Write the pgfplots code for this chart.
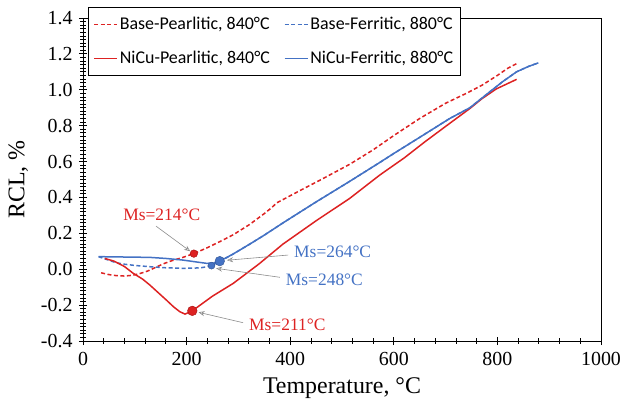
\documentclass[border=0pt]{standalone}
\usepackage{fontspec}
\setmainfont{Liberation Serif}
\newfontfamily\calibri{Carlito}
\usepackage{pgfplots}
\pgfplotsset{compat=1.18}
\usetikzlibrary{arrows.meta}
\definecolor{xred}{HTML}{DD2222}
\definecolor{xredd}{HTML}{A01010}
\definecolor{xblue}{HTML}{4472C4}
\definecolor{xblued}{HTML}{2F528F}
\definecolor{arrgray}{HTML}{8C8C8C}

\begin{document}
\begin{tikzpicture}
\useasboundingbox (0bp,0bp) rectangle (623bp,408bp);
\begin{axis}[at={(83bp,67bp)},anchor=south west,scale only axis,width=518bp,height=323bp,
  xmin=0,xmax=1000,ymin=-0.4,ymax=1.4,
  xtick={0,200,400,600,800,1000},
  xticklabels={0,200,400,600,800,1000},
  ytick={-0.4,-0.2,0,0.2,0.4,0.6,0.8,1.0,1.2,1.4},
  yticklabels={-0.4,-0.2,0.0,0.2,0.4,0.6,0.8,1.0,1.2,1.4},
  minor x tick num=4,minor y tick num=9,
  xtick pos=bottom,ytick pos=left,
  tick align=center,
  major tick length=8bp,minor tick length=5bp,
  tick style={black,line width=0.8bp},
  axis line style={black,line width=0.9bp},
  tick label style={font=\fontsize{20}{23}\selectfont},
  x tick label style={yshift=-4bp},
  y tick label style={xshift=-3bp},
  xlabel={Temperature, °C},ylabel={RCL, \%},
  label style={font=\fontsize{24}{28}\selectfont},
  xlabel style={yshift=-5bp},
  ylabel style={yshift=6bp},
  legend columns=2,legend cell align=left,
  legend image post style={xscale=1.35},
  legend style={at={(0.0097,1.034)},anchor=north west,draw=black,line width=0.8bp,fill=white,
    font=\fontsize{18}{21}\selectfont,inner xsep=5bp,inner ysep=8bp,row sep=16bp,
    /tikz/every even column/.append style={column sep=12bp}},
  clip=false]
\addplot[xred,line width=1.5bp,dash pattern=on 4bp off 2.5bp] coordinates {
(35,-0.020)(50,-0.030)(65,-0.036)(80,-0.038)(95,-0.034)(110,-0.024)(125,-0.010)(140,0.010)
(155,0.030)(170,0.046)(193,0.066)(214,0.087)(240,0.120)(265,0.155)(290,0.192)(322,0.250)
(350,0.310)(365,0.345)(374,0.370)(386,0.388)(420,0.440)(460,0.500)(515,0.585)(560,0.665)
(600,0.745)(650,0.840)(700,0.925)(740,0.980)(770,1.025)(800,1.080)(820,1.120)(840,1.150)};
\addlegendentry{{\calibri Base-Pearlitic, 840°C}}
\addplot[xblue,line width=1.5bp,dash pattern=on 4bp off 2.5bp] coordinates {
(30,0.070)(45,0.055)(64,0.036)(80,0.028)(100,0.021)(129,0.014)(160,0.008)(193,0.005)
(215,0.006)(232,0.010)(248,0.020)(264,0.043)(290,0.085)(322,0.140)(350,0.190)(386,0.258)
(450,0.375)(515,0.490)(573,0.595)(600,0.645)(650,0.735)(708,0.840)(747,0.900)(786,0.990)
(810,1.045)(837,1.100)(860,1.130)(879,1.150)};
\addlegendentry{{\calibri Base-Ferritic, 880°C}}
\addplot[xred,line width=1.5bp] coordinates {
(42,0.060)(60,0.045)(80,0.015)(97,-0.023)(115,-0.055)(129,-0.088)(145,-0.130)(161,-0.172)
(175,-0.210)(187,-0.237)(197,-0.250)(211,-0.232)(250,-0.150)(290,-0.079)(340,0.030)(386,0.140)
(450,0.270)(515,0.395)(573,0.525)(620,0.620)(660,0.710)(708,0.813)(747,0.896)(770,0.950)
(798,1.005)(837,1.058)};
\addlegendentry{{\calibri NiCu-Pearlitic, 840°C}}
\addplot[xblue,line width=1.5bp] coordinates {
(30,0.070)(80,0.068)(129,0.066)(160,0.060)(193,0.051)(220,0.040)(238,0.033)(252,0.034)
(264,0.045)(290,0.085)(322,0.140)(350,0.190)(386,0.258)(450,0.375)(515,0.490)(573,0.595)
(600,0.645)(650,0.735)(708,0.840)(747,0.900)(786,0.990)(810,1.045)(837,1.100)(860,1.130)
(879,1.150)};
\addlegendentry{{\calibri NiCu-Ferritic, 880°C}}
% Ms points
\addplot[forget plot,only marks,mark=*,mark size=3.8bp,draw=xredd,fill=xred] coordinates {(214,0.087)};
\addplot[forget plot,only marks,mark=*,mark size=4.8bp,draw=xredd,fill=xred] coordinates {(211,-0.232)};
\addplot[forget plot,only marks,mark=*,mark size=3.5bp,draw=xblued,fill=xblue] coordinates {(248,0.020)};
\addplot[forget plot,only marks,mark=*,mark size=4.8bp,draw=xblued,fill=xblue] coordinates {(264,0.045)};
% labels
\draw[arrgray,line width=0.6bp,-{Stealth[open,length=6bp,width=5bp]}] (axis cs:141,0.24) -- (axis cs:207,0.10);
\draw[arrgray,line width=0.6bp,-{Stealth[open,length=6bp,width=5bp]}] (axis cs:396,0.079) -- (axis cs:278,0.050);
\draw[arrgray,line width=0.6bp,-{Stealth[open,length=6bp,width=5bp]}] (axis cs:380,-0.045) -- (axis cs:257,0.005);
\draw[arrgray,line width=0.6bp,-{Stealth[open,length=6bp,width=5bp]}] (axis cs:309,-0.298) -- (axis cs:223,-0.240);
\node[text=xred,font=\fontsize{17.5}{20}\selectfont] at (axis cs:152,0.302) {Ms=214°C};
\node[text=xblue,anchor=west,font=\fontsize{17.5}{20}\selectfont] at (axis cs:401,0.098) {Ms=264°C};
\node[text=xblue,anchor=west,font=\fontsize{17.5}{20}\selectfont] at (axis cs:385,-0.060) {Ms=248°C};
\node[text=xred,anchor=west,font=\fontsize{17.5}{20}\selectfont] at (axis cs:314,-0.310) {Ms=211°C};
\end{axis}
\end{tikzpicture}
\end{document}
